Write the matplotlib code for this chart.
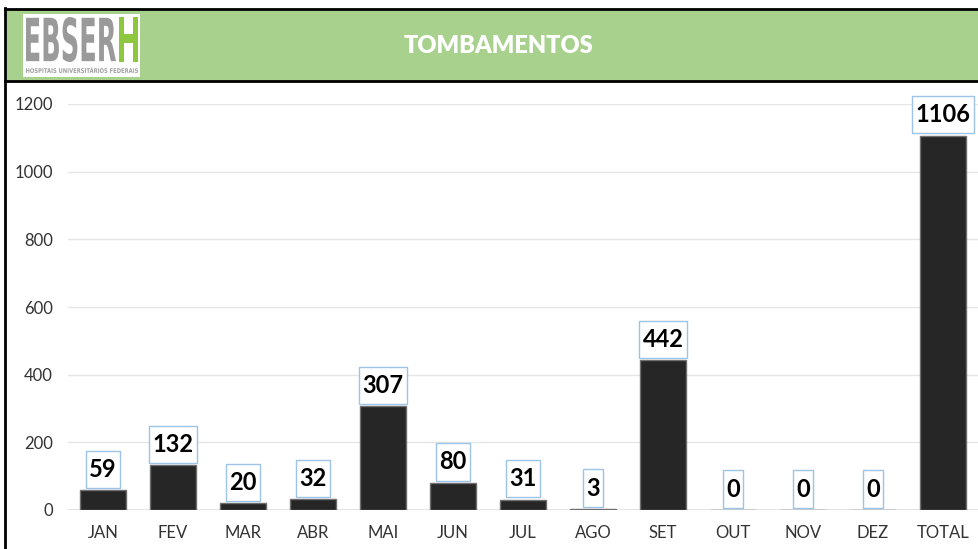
import numpy as np
import matplotlib.pyplot as plt
from matplotlib.patches import Rectangle, PathPatch
from matplotlib.path import Path
from matplotlib.textpath import TextPath
from matplotlib.font_manager import FontProperties
from matplotlib.transforms import Affine2D

# dados
meses = ['JAN', 'FEV', 'MAR', 'ABR', 'MAI', 'JUN', 'JUL', 'AGO', 'SET', 'OUT', 'NOV', 'DEZ', 'TOTAL']
tombamentos = [59, 132, 20, 32, 307, 80, 31, 3, 442, 0, 0, 0, 1106]
titulo = 'TOMBAMENTOS'
yticks = [0, 200, 400, 600, 800, 1000, 1200]

W, H = 979, 549
fig = plt.figure(figsize=(W / 100, H / 100), dpi=100)
fig.patch.set_facecolor('white')

# cabecalho em coordenadas de pixel
hd = fig.add_axes([0, 0, 1, 1])
hd.set_xlim(0, W)
hd.set_ylim(H, 0)
hd.axis('off')
hd.add_patch(Rectangle((5, 9), W, 72, facecolor='#a9d18e', edgecolor='none'))
hd.plot([5, W], [9, 9], color='black', lw=2)
hd.plot([5, W], [81, 81], color='black', lw=2)
hd.plot([5, 5], [8, H], color='black', lw=2)

# logo
hd.add_patch(Rectangle((23, 14), 117, 63, facecolor='white', edgecolor='none'))
fp = FontProperties(family='DejaVu Sans', weight='bold')


def texto_esticado(s, x0, x1, ytop, ybot, cor):
    tp = TextPath((0, 0), s, size=1, prop=fp)
    ext = tp.get_extents()
    sx = (x1 - x0) / ext.width
    sy = (ybot - ytop) / ext.height
    tr = Affine2D().translate(-ext.x0, -ext.y0).scale(sx, -sy).translate(x0, ybot)
    hd.add_patch(PathPatch(tp, transform=tr + hd.transData, facecolor=cor, edgecolor='none'))


texto_esticado('EBSER', 26, 116, 17, 62, '#9a9a9a')
texto_esticado('H', 119, 138, 17, 62, '#8dc63f')
texto_esticado('HOSPITAIS UNIVERSITÁRIOS FEDERAIS', 26, 138, 67, 73, '#a0a0a0')

hd.text(499, 46, titulo, color='white', fontsize=17, fontweight='heavy',
        family='Lato', ha='center', va='center')


# caixa com folga diferente na horizontal e vertical
def caixa(x0, y0, width, height, mutation_size):
    px = 0.14 * mutation_size
    py = 0.3 * mutation_size
    x0, y0 = x0 - px, y0 - py
    x1, y1 = x0 + width + 2 * px, y0 + height + 2 * py
    return Path([(x0, y0), (x1, y0), (x1, y1), (x0, y1), (x0, y0)], closed=True)


# grafico
ax = fig.add_axes([68 / W, 1 - 510 / H, (978 - 68) / W, (510 - 104) / H])
x = np.arange(len(meses))
ax.bar(x, tombamentos, width=0.67, color='#262626', edgecolor='#6e6e6e', linewidth=1, zorder=3)
ax.set_xlim(-0.5, len(meses) - 0.5)
ax.set_ylim(0, 1200)
ax.set_yticks(yticks)
ax.set_xticks(x)
ax.set_xticklabels(meses)
ax.grid(axis='y', color='#e6e6e6', lw=1, zorder=0)
for s in ax.spines.values():
    s.set_visible(False)
ax.axhline(0, color='#e0e0e0', lw=1.2, zorder=2)
ax.tick_params(axis='both', length=0, labelsize=12, colors='#333333')
ax.tick_params(axis='y', pad=11)
ax.tick_params(axis='x', pad=11)
for lab in ax.get_xticklabels() + ax.get_yticklabels():
    lab.set_family('Lato')

for i, v in enumerate(tombamentos):
    ax.annotate(str(v), (i, v), xytext=(0, 6.8), textcoords='offset points',
                ha='center', va='bottom', fontsize=17, fontweight='bold', family='Lato',
                color='black', zorder=4, clip_on=False,
                bbox=dict(boxstyle=caixa, facecolor='white', edgecolor='#9dc3e6', lw=1))

fig.savefig('out.png', dpi=100)
